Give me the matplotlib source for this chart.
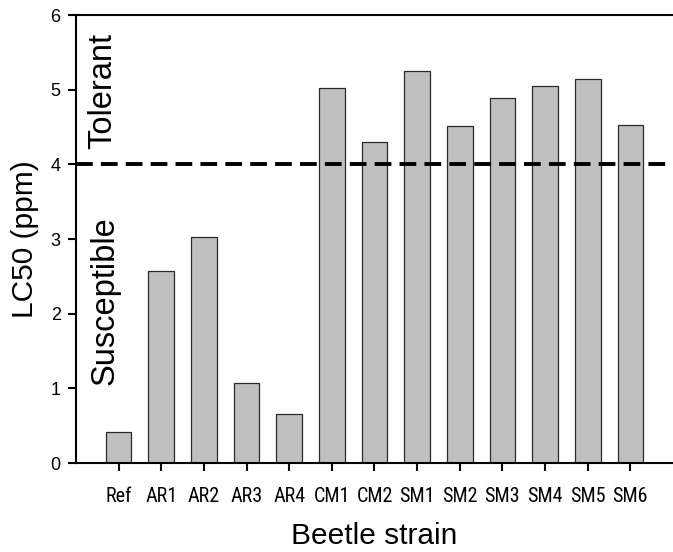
import matplotlib
matplotlib.use("Agg")
import matplotlib.pyplot as plt
from matplotlib import font_manager

strains = ["Ref", "AR1", "AR2", "AR3", "AR4", "CM1", "CM2",
           "SM1", "SM2", "SM3", "SM4", "SM5", "SM6"]
lc50 = [0.41, 2.57, 3.03, 1.07, 0.66, 5.02, 4.30,
        5.25, 4.52, 4.89, 5.05, 5.14, 4.53]
threshold = 4.0
yticks = [0, 1, 2, 3, 4, 5, 6]

plt.rcParams['font.family'] = ['Liberation Sans', 'DejaVu Sans']
fl = font_manager.fontManager.ttflist
names = {f.name for f in fl}
tick_kw = dict(fontsize=12.5, family=['Liberation Sans', 'DejaVu Sans'])
if 'Liberation Sans Narrow' in names:
    tick_kw = dict(fontsize=14.5, family=['Liberation Sans Narrow', 'DejaVu Sans'])
elif 'Roboto Condensed' in names:
    tick_kw = dict(fontsize=14.5, family=['Roboto Condensed', 'DejaVu Sans'])
elif any(f.name == 'Roboto' and f.stretch == 'condensed' for f in fl):
    tick_kw = dict(fontsize=14.5, family=['Roboto', 'DejaVu Sans'], fontstretch='condensed')
elif any(f.name == 'DejaVu Sans' and f.stretch == 'condensed' for f in fl):
    tick_kw = dict(fontsize=13, family=['DejaVu Sans'], fontstretch='condensed')

fig = plt.figure(figsize=(6.73, 5.52), dpi=100)
ax = fig.add_axes([0.1129, 0.1612, 0.8871, 0.8116])

x = list(range(len(strains)))
ax.bar(x, lc50, width=0.6, color="#c0c0c0", edgecolor="#2a2a2a", linewidth=0.9, zorder=2)
ax.axhline(threshold, color="black", linewidth=2.8, dashes=(4.3, 2.1), zorder=3)

ax.set_xlim(-1, 13)
ax.set_ylim(0, 6)
ax.set_xticks(x)
ax.set_xticklabels(strains, **tick_kw)
ax.set_yticks(yticks)
ax.set_yticklabels([str(v) for v in yticks], fontsize=13)

for s in ["left", "top", "bottom"]:
    ax.spines[s].set_linewidth(1.5)
ax.spines["right"].set_visible(False)
ax.tick_params(axis="both", direction="out", length=6, width=1.5)
ax.tick_params(axis="x", pad=11)
ax.tick_params(axis="y", pad=5)

ax.set_xlabel("Beetle strain", fontsize=21.5, labelpad=12)
ax.set_ylabel("LC50 (ppm)", fontsize=21.5, labelpad=8)

ax.text(-0.38, 4.98, "Tolerant", rotation=90, ha="center", va="center", fontsize=23.5)
ax.text(-0.33, 2.18, "Susceptible", rotation=90, ha="center", va="center", fontsize=23.5)

fig.savefig("out.png", dpi=100)
